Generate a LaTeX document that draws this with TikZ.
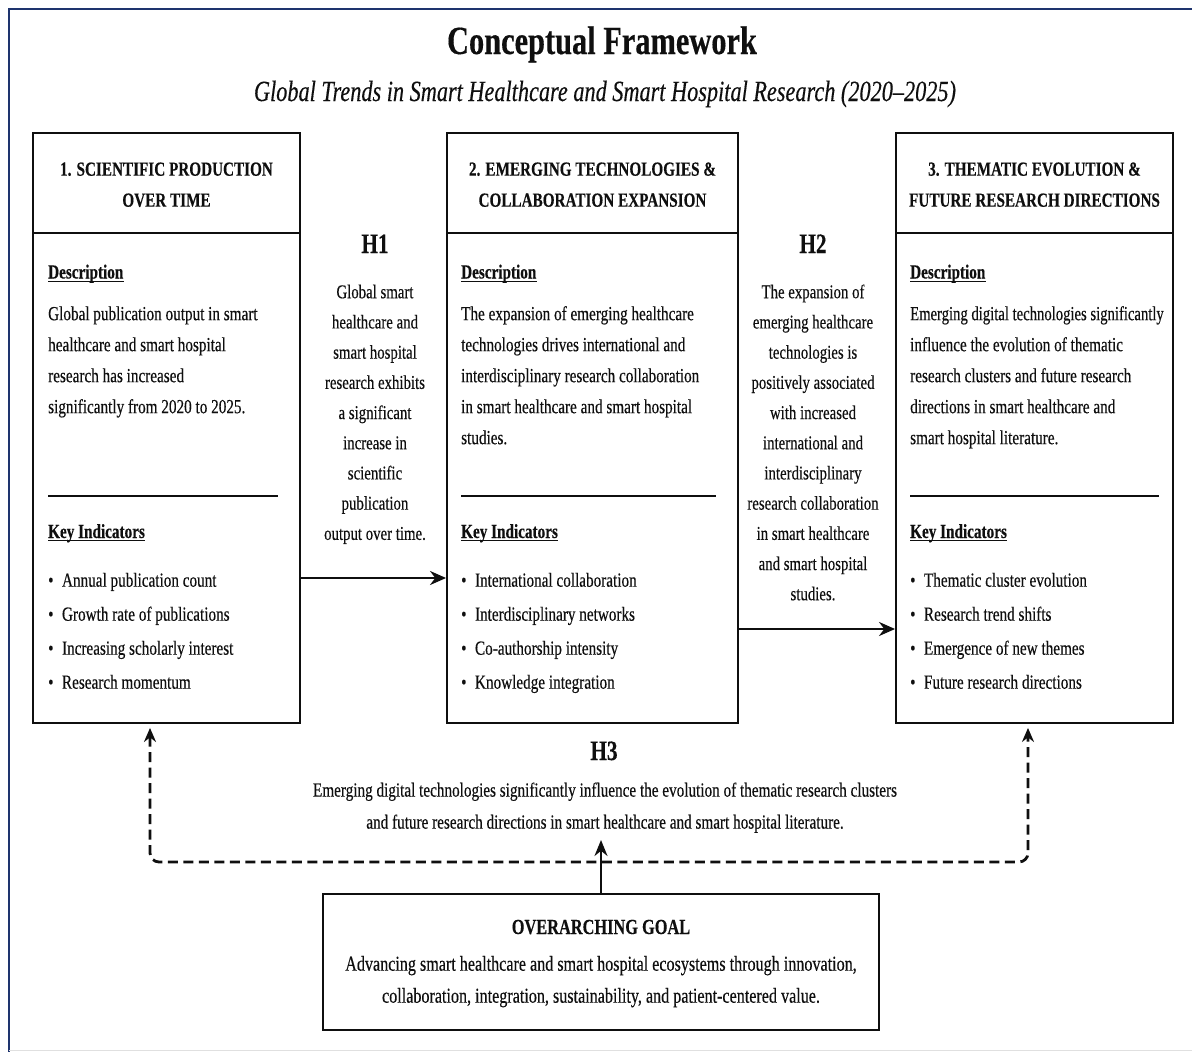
\documentclass[tikz,border=0pt]{standalone}
\usepackage{fontspec}
\setmainfont{Liberation Serif}[FakeStretch=0.76, FakeBold=0.3]
\usetikzlibrary{arrows.meta}
\definecolor{frameblue}{RGB}{30,52,110}
\definecolor{ink}{RGB}{15,15,15}
\begin{document}
\begin{tikzpicture}[x=1pt,y=-1pt,
  box/.style={draw=ink, line width=1.9pt, inner sep=0pt},
  txt/.style={inner sep=0pt, text=ink},
  body/.style={txt, anchor=north west, align=left, font=\fontsize{20}{31}\selectfont},
  bullets/.style={txt, anchor=north west, align=left, font=\fontsize{20}{34}\selectfont},
  hyp/.style={txt, anchor=north, align=center, font=\fontsize{19.5}{30.2}\selectfont},
  hlabel/.style={txt, anchor=base, font=\fontsize{28}{30}\selectfont\bfseries},
  head/.style={txt, anchor=north, align=center, font=\fontsize{20}{31}\selectfont\bfseries},
  subhead/.style={txt, anchor=base west, font=\fontsize{20}{24}\selectfont\bfseries},
  rulel/.style={draw=ink, line width=1.9pt},
  ulin/.style={draw=ink, line width=1.2pt},
  arr/.style={draw=ink, line width=2.6pt, -{Stealth[length=16pt,width=14pt]}},
  dasharr/.style={draw=ink, line width=2.8pt, dash pattern=on 10pt off 5.5pt, rounded corners=9pt,
     {Stealth[length=14pt,width=12pt]}-{Stealth[length=14pt,width=12pt]}, shorten <=4pt, shorten >=4pt}
]
\useasboundingbox (0,0) rectangle (1192,1052);
\fill[white] (0,0) rectangle (1192,1052);
% frame
\draw[frameblue, line width=2.6pt] (9,1052) -- (9,9) -- (1192,9);
\draw[black!12, line width=1pt] (9,1050) -- (1192,1050);

% titles
\node[txt, anchor=base, font=\fontsize{40}{44}\selectfont\bfseries] (title) at (602,54) {Conceptual Framework};
\node[txt, anchor=base, font=\fontsize{29.3}{32}\selectfont\itshape] (subtitle) at (605,101) {Global Trends in Smart Healthcare and Smart Hospital Research (2020–2025)};

% boxes
\node[box, minimum width=267pt, minimum height=590pt] (b1) at (166.5,428) {};
\node[box, minimum width=291pt, minimum height=590pt] (b2) at (592.5,428) {};
\node[box, minimum width=277pt, minimum height=590pt] (b3) at (1034.5,428) {};
\foreach \b in {b1,b2,b3}{
  \draw[rulel] ([yshift=-101pt]\b.north west) -- ([yshift=-101pt]\b.north east);
}

% headers
\node[head] (h1t) at (166.5,153.8) {\strut 1. SCIENTIFIC PRODUCTION\\OVER TIME};
\node[head] (h2t) at (592.5,153.8) {\strut 2. EMERGING TECHNOLOGIES \&\\COLLABORATION EXPANSION};
\node[head] (h3t) at (1034.5,153.8) {\strut 3. THEMATIC EVOLUTION \&\\FUTURE RESEARCH DIRECTIONS};

% description headings
\node[subhead] (d1h) at (48,278.5) {Description};
\node[subhead] (d2h) at (461,278.5) {Description};
\node[subhead] (d3h) at (910,278.5) {Description};
\foreach \n in {d1h,d2h,d3h}{
  \draw[ulin] ([yshift=-2.6pt]\n.base west) -- ([yshift=-2.6pt]\n.base east);
}

% description texts
\node[body] (d1) at (48,298.3) {\strut Global publication output in smart\\healthcare and smart hospital\\research has increased\\significantly from 2020 to 2025.};
\node[body] (d2) at (461,298.3) {\strut The expansion of emerging healthcare\\technologies drives international and\\interdisciplinary research collaboration\\in smart healthcare and smart hospital\\studies.};
\node[body] (d3) at (910,298.3) {\strut \scalebox{0.965}[1]{Emerging digital technologies significantly}\\influence the evolution of thematic\\research clusters and future research\\directions in smart healthcare and\\smart hospital literature.};

% separators
\draw[rulel] (48,496) -- (278,496);
\draw[rulel] (461,496) -- (716,496);
\draw[rulel] (910,496) -- (1159,496);

% key indicators
\node[subhead] (k1h) at (48,538) {Key Indicators};
\node[subhead] (k2h) at (461,538) {Key Indicators};
\node[subhead] (k3h) at (910,538) {Key Indicators};
\foreach \n in {k1h,k2h,k3h}{
  \draw[ulin] ([yshift=-2.6pt]\n.base west) -- ([yshift=-2.6pt]\n.base east);
}

\node[bullets] (k1) at (48,562.7) {\strut •\hspace{8.5pt}Annual publication count\\•\hspace{8.5pt}Growth rate of publications\\•\hspace{8.5pt}Increasing scholarly interest\\•\hspace{8.5pt}Research momentum};
\node[bullets] (k2) at (461,562.7) {\strut •\hspace{8.5pt}International collaboration\\•\hspace{8.5pt}Interdisciplinary networks\\•\hspace{8.5pt}Co-authorship intensity\\•\hspace{8.5pt}Knowledge integration};
\node[bullets] (k3) at (910,562.7) {\strut •\hspace{8.5pt}Thematic cluster evolution\\•\hspace{8.5pt}Research trend shifts\\•\hspace{8.5pt}Emergence of new themes\\•\hspace{8.5pt}Future research directions};

% hypotheses
\node[hlabel] (H1) at (375,253) {H1};
\node[hlabel] (H2) at (813,253) {H2};
\node[hlabel] (H3) at (604,760) {H3};

\node[hyp] (H1t) at (375,276.9) {\strut Global smart\\healthcare and\\smart hospital\\research exhibits\\a significant\\increase in\\scientific\\publication\\output over time.};
\node[hyp] (H2t) at (813,276.9) {\strut The expansion of\\emerging healthcare\\technologies is\\positively associated\\with increased\\international and\\interdisciplinary\\research collaboration\\in smart healthcare\\and smart hospital\\studies.};
\node[hyp, font=\fontsize{20}{32}\selectfont] (H3t) at (605,774) {\strut Emerging digital technologies significantly influence the evolution of thematic research clusters\\and future research directions in smart healthcare and smart hospital literature.};

% arrows
\draw[arr] ([yshift=-150pt]b1.east) -- ([yshift=-150pt]b2.west);
\draw[arr] ([yshift=-201pt]b2.east) -- ([yshift=-201pt]b3.west);

% goal
\node[box, minimum width=556pt, minimum height=136pt] (goal) at (601,962) {};
\node[txt, anchor=base, font=\fontsize{21.5}{24}\selectfont\bfseries] (goalh) at (601,934) {OVERARCHING GOAL};
\node[hyp, font=\fontsize{21.2}{32}\selectfont] (goalt) at (601,948.1) {\strut Advancing smart healthcare and smart hospital ecosystems through innovation,\\collaboration, integration, sustainability, and patient-centered value.};

% H3 connectors
\coordinate (dl) at (150,862);
\coordinate (dr) at (1028,862);
\coordinate (gtip) at (601,840);
\draw[dasharr] (dl |- b1.south) -- (dl) -- (dr) -- (dr |- b3.south);
\draw[draw=ink, line width=2.4pt, -{Stealth[length=16pt,width=13pt]}] (goal.north) -- (gtip);
\end{tikzpicture}
\end{document}
